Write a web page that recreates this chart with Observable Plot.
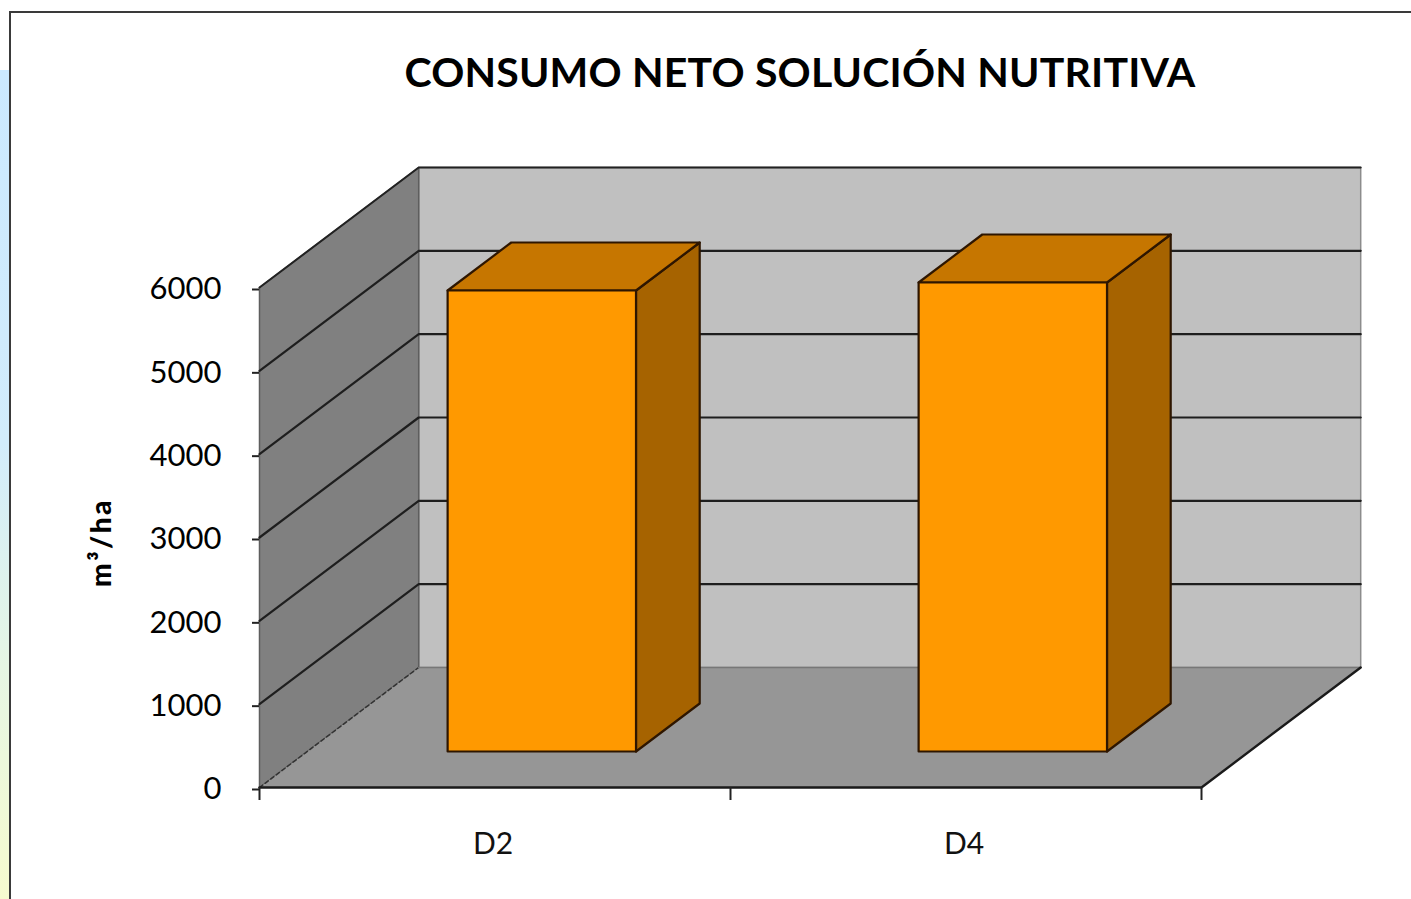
<!DOCTYPE html>
<html lang="es">
<head>
<meta charset="utf-8">
<title>Consumo neto solución nutritiva</title>
<script src="https://cdn.jsdelivr.net/npm/d3@7"></script>
<script src="https://cdn.jsdelivr.net/npm/@observablehq/plot@0.6"></script>
<style>
  html, body { margin: 0; padding: 0; background: #fff; overflow: hidden; }
  #page { position: relative; width: 1411px; height: 899px; overflow: hidden; }
  #strip { position: absolute; left: 0; top: 70px; width: 12px; height: 829px;
           background: linear-gradient(#cbe9ff 0%, #d2ecfb 45%, #e6f6e4 72%, #f6fbcf 100%); }
  #panel { position: absolute; left: 9px; top: 10.5px; width: 1500px; height: 1000px;
           background: #fff; border: 2px solid #3a3a3a; box-sizing: border-box; }
  #chart { position: absolute; left: 0; top: 0; }
  .title-text { letter-spacing: 0.2px; }
  .ylabel-text { letter-spacing: 2.5px; }
</style>
</head>
<body>
<div id="page">
  <div id="strip"></div>
  <div id="panel"></div>
  <div id="chart"></div>
</div>
<script>
const chartTitle = "CONSUMO NETO SOLUCIÓN NUTRITIVA";
const yLabel = "m³/ha";
const categories = ["D2", "D4"];
const values = [5532, 5628];
const yTicks = [0, 1000, 2000, 3000, 4000, 5000, 6000];
const xTicks = [0, 1, 2];

// Oblique projection of the 3D chart: depth 0 (front) .. 1 (back)
const depthX = 0.338;  // category units shifted per unit of depth
const depthY = 1440;   // value units shifted per unit of depth
const barFront = 0.3, barBack = 0.7, barStart = 0.298, barEnd = 0.698;
const pt = (c, v, d) => ({x: c + d * depthX, y: v + d * depthY});

const yMax = yTicks[yTicks.length - 1];
const xMax = xTicks[xTicks.length - 1];
const face = (corners, fill, stroke, strokeWidth = 2, extra = {}) =>
  Plot.line([...corners, corners[0]], {x: "x", y: "y", fill, stroke, strokeWidth, ...extra});

const wallMarks = [
  face([pt(0, 0, 1), pt(xMax, 0, 1), pt(xMax, yMax, 1), pt(0, yMax, 1)], "#c0c0c0", "#8c8c8c", 1.5),
  face([pt(0, 0, 0), pt(0, 0, 1), pt(0, yMax, 1), pt(0, yMax, 0)], "#808080", "#5e5e5e", 1.5),
  face([pt(0, 0, 0), pt(xMax, 0, 0), pt(xMax, 0, 1), pt(0, 0, 1)], "#969696", "none"),
  // upper edges of the walls
  Plot.line([pt(0, yMax, 0), pt(0, yMax, 1), pt(xMax, yMax, 1)], {x: "x", y: "y", stroke: "#222", strokeWidth: 2}),
  // floor edges
  Plot.line([pt(0, 0, 0), pt(0, 0, 1)], {x: "x", y: "y", stroke: "#333", strokeWidth: 1.5, strokeDasharray: "4 3"}),
  Plot.line([pt(0, 0, 1), pt(xMax, 0, 1)], {x: "x", y: "y", stroke: "#777", strokeWidth: 1.5}),
  Plot.line([pt(0, 0, 0), pt(xMax, 0, 0), pt(xMax, 0, 1)], {x: "x", y: "y", stroke: "#1a1a1a", strokeWidth: 2.4})
];

// gridlines on the side wall and the back wall
const gridMarks = yTicks.slice(1, -1).map(v =>
  Plot.line([pt(0, v, 0), pt(0, v, 1), pt(xMax, v, 1)], {x: "x", y: "y", stroke: "#1e1e1e", strokeWidth: 2.2})
);

const barMarks = categories.flatMap((name, i) => {
  const a = i + barStart, b = i + barEnd, v = values[i];
  const lineColor = "#2e1600";
  return [
    face([pt(b, 0, barFront), pt(b, 0, barBack), pt(b, v, barBack), pt(b, v, barFront)], "#a66300", lineColor, 2.2),
    face([pt(a, v, barFront), pt(b, v, barFront), pt(b, v, barBack), pt(a, v, barBack)], "#c67600", lineColor, 2.2),
    face([pt(a, 0, barFront), pt(b, 0, barFront), pt(b, v, barFront), pt(a, v, barFront)], "#ff9900", lineColor, 2.2)
  ];
});

const font = "Lato, 'Open Sans', sans-serif";

const chart = Plot.plot({
  width: 1411,
  height: 899,
  marginLeft: 259,
  marginRight: 210,
  marginTop: 287,
  marginBottom: 112,
  style: {background: "transparent"},
  x: {type: "linear", domain: [0, xMax]},
  y: {type: "linear", domain: [0, yMax]},
  marks: [
    ...wallMarks,
    ...gridMarks,
    ...barMarks,
    Plot.axisY(yTicks, {anchor: "left", label: null, tickSize: 7, tickPadding: 31, stroke: "#222",
      strokeWidth: 2, fontSize: 31, fontFamily: font, fill: "#000", dy: 2, tickFormat: d => String(d)}),
    Plot.axisX(xTicks, {anchor: "bottom", label: null, tickSize: 13, stroke: "#222", strokeWidth: 2,
      tickFormat: () => ""}),
    Plot.text(categories, {
      x: (d, i) => i + 0.5, y: () => 0, text: d => d, dx: -2, dy: 57,
      fontSize: 30, fontFamily: font, fill: "#111"
    }),
    Plot.text([chartTitle], {
      frameAnchor: "top", text: d => d, dx: 69.5, dy: -230,
      fontSize: 41, fontFamily: font, fontWeight: 700, fill: "#000", className: "title-text"
    }),
    Plot.text([yLabel], {
      frameAnchor: "left", text: d => d, rotate: -90, textAnchor: "middle", dx: -157, dy: 5,
      fontSize: 28, fontFamily: font, fontWeight: 900, fill: "#000", className: "ylabel-text"
    })
  ]
});
document.getElementById("chart").appendChild(chart);
</script>
</body>
</html>
